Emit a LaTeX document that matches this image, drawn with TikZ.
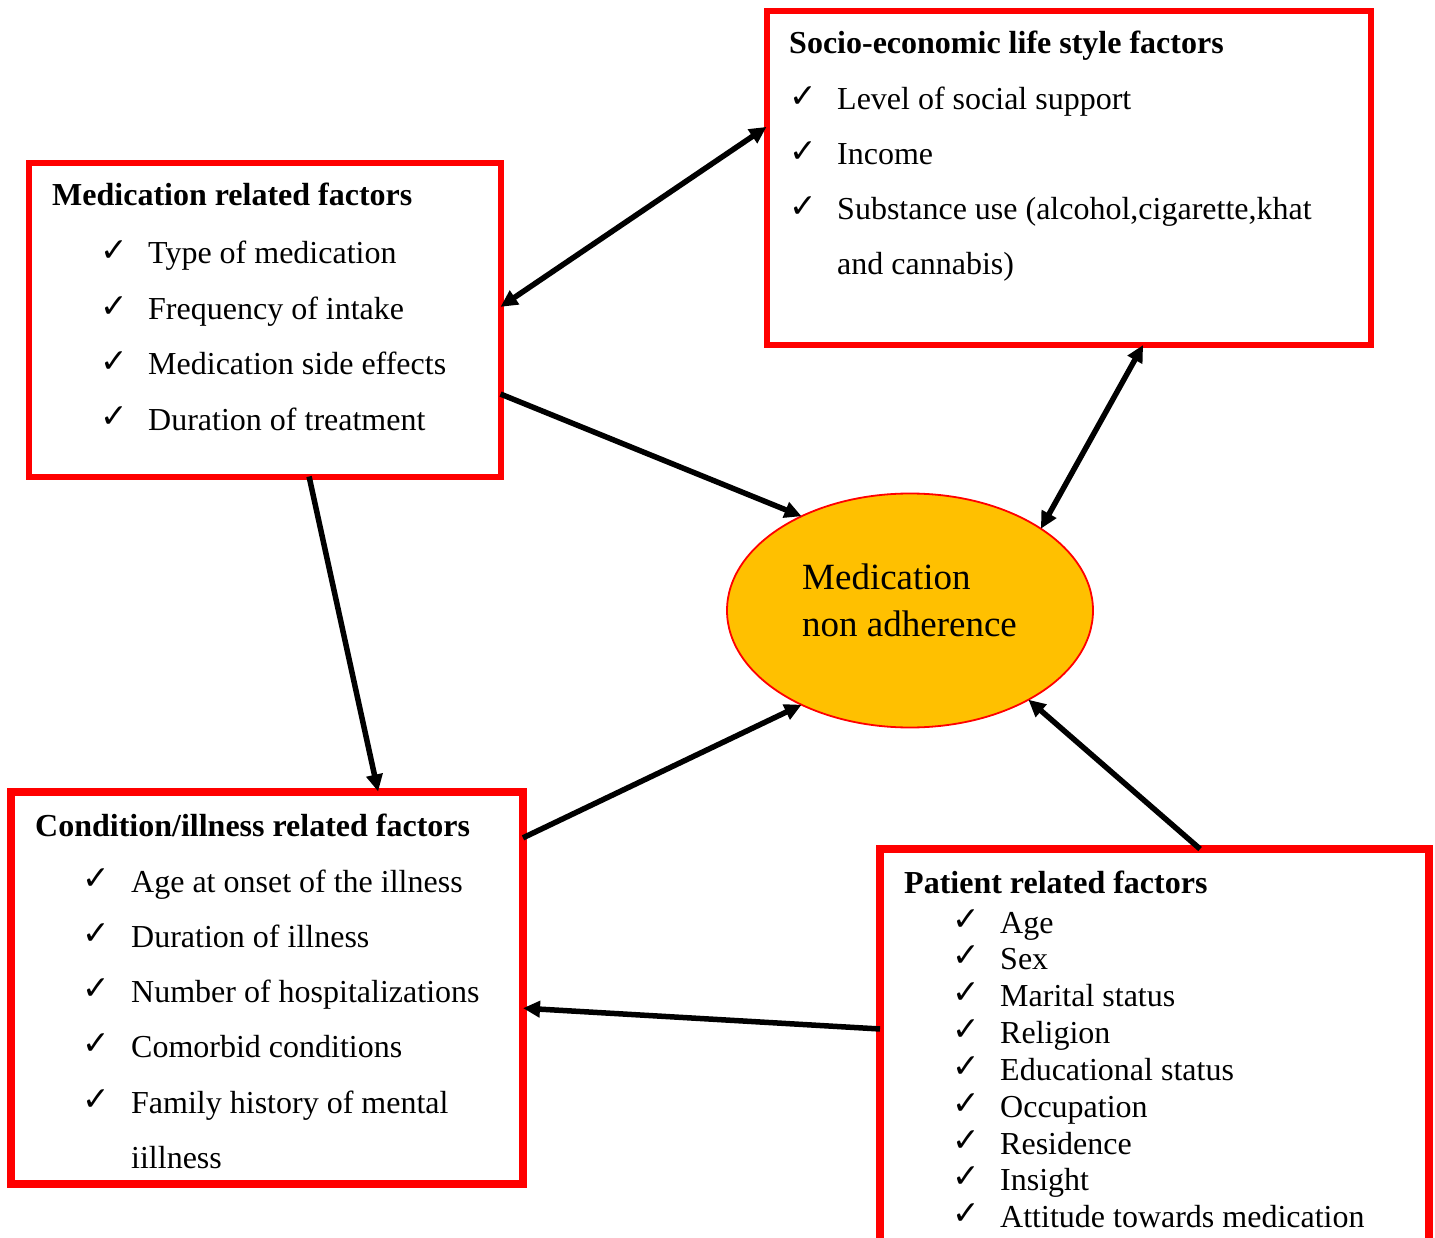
\documentclass[tikz,border=0pt]{standalone}
\usepackage{fontspec}
\setmainfont{Liberation Serif}
\newfontfamily\chkfont{DejaVu Sans}
\usetikzlibrary{arrows.meta,calc,shapes.geometric}
\definecolor{ellfill}{HTML}{FFC000}
\begin{document}
\begin{tikzpicture}[x=1pt,y=-1pt,
  box/.style={draw=red, rectangle, inner sep=0pt, outer sep=0pt, anchor=north west},
  hdr/.style={anchor=base west, inner sep=0pt, yshift=-2pt, font=\bfseries\fontsize{32}{38}\selectfont},
  itm/.style={anchor=base west, inner sep=0pt, yshift=-2pt, font=\fontsize{32}{38}\selectfont},
  ctext/.style={anchor=base west, inner sep=0pt, font=\fontsize{37}{44}\selectfont},
  chk/.style={anchor=base west, inner sep=0pt, yshift=-1.5pt, font=\chkfont\fontsize{33}{36}\selectfont},
  arr/.style={line width=5.5pt, -{Triangle[length=17pt,width=16pt]}},
  darr/.style={line width=5.5pt, {Triangle[length=17pt,width=16pt]}-{Triangle[length=17pt,width=16pt]}}
]
\useasboundingbox (0,0) rectangle (1435,1238);

% boxes
\node[box, line width=6pt, minimum width=604.5pt, minimum height=333.5pt] (soc) at (766.5,11.5) {};
\node[box, line width=6pt, minimum width=471.5pt, minimum height=313.5pt] (med) at (29,163) {};
\node[box, line width=8pt, minimum width=512pt, minimum height=392.5pt] (cond) at (11,791.5) {};
\node[box, line width=8pt, minimum width=549pt, minimum height=393pt] (pat) at (880,849) {};

% ellipse
\node[ellipse, draw=red, line width=1.8pt, fill=ellfill, minimum width=366pt, minimum height=234pt, inner sep=0pt, outer sep=0pt] (ell) at (910,610.5) {};
\node[ctext] (e1) at (802,589) {Medication};
\node[ctext] (e2) at (802,636) {non adherence};

% socio-economic
\node[hdr] (s0) at (789,52) {Socio-economic life style factors};
\node[chk] (sc1) at (789,106) {✓};
\node[itm] (s1) at (837,108) {Level of social support};
\node[chk] (sc2) at (789,161) {✓};
\node[itm] (s2) at (837,163) {Income};
\node[chk] (sc3) at (789,216) {✓};
\node[itm] (s3) at (837,218) {Substance use (alcohol,cigarette,khat};
\node[itm] (s4) at (837,273) {and cannabis)};

% medication
\node[hdr] (m0) at (52,204) {Medication related factors};
\node[chk] (mc1) at (100,260) {✓};
\node[itm] (m1) at (148,262) {Type of medication};
\node[chk] (mc2) at (100,316) {✓};
\node[itm] (m2) at (148,318) {Frequency of intake};
\node[chk] (mc3) at (100,371) {✓};
\node[itm] (m3) at (148,373) {Medication side effects};
\node[chk] (mc4) at (100,426) {✓};
\node[itm] (m4) at (148,428) {Duration of treatment};

% condition
\node[hdr] (c0) at (35,834) {Condition/illness related factors};
\node[chk] (cc1) at (82,888) {✓};
\node[itm] (c1) at (131,890) {Age at onset of the illness};
\node[chk] (cc2) at (82,943) {✓};
\node[itm] (c2) at (131,945) {Duration of illness};
\node[chk] (cc3) at (82,998) {✓};
\node[itm] (c3) at (131,1000) {Number of hospitalizations};
\node[chk] (cc4) at (82,1053) {✓};
\node[itm] (c4) at (131,1055) {Comorbid conditions};
\node[chk] (cc5) at (82,1109) {✓};
\node[itm] (c5) at (131,1111) {Family history of mental};
\node[itm] (c6) at (131,1166) {iillness};

% patient
\node[hdr] (p0) at (904,891) {Patient related factors};
\node[chk] (pc1) at (952,929) {✓};
\node[itm] (p1) at (1000,931) {Age};
\node[chk] (pc2) at (952,965) {✓};
\node[itm] (p2) at (1000,967) {Sex};
\node[chk] (pc3) at (952,1002) {✓};
\node[itm] (p3) at (1000,1004) {Marital status};
\node[chk] (pc4) at (952,1039) {✓};
\node[itm] (p4) at (1000,1041) {Religion};
\node[chk] (pc5) at (952,1076) {✓};
\node[itm] (p5) at (1000,1078) {Educational status};
\node[chk] (pc6) at (952,1113) {✓};
\node[itm] (p6) at (1000,1115) {Occupation};
\node[chk] (pc7) at (952,1150) {✓};
\node[itm] (p7) at (1000,1152) {Residence};
\node[chk] (pc8) at (952,1186) {✓};
\node[itm] (p8) at (1000,1188) {Insight};
\node[chk] (pc9) at (952,1223) {✓};
\node[itm] (p9) at (1000,1225) {Attitude towards medication};

% connectors
\draw[darr] ($(med.north east)!0.459!(med.south east)$) -- ($(soc.north west)!0.346!(soc.south west)$);
\draw[darr] (ell.32) -- ($(soc.south west)!0.623!(soc.south east)$);
\draw[arr] ($(med.north east)!0.737!(med.south east)$) -- (ell.139);
\draw[arr] ($(med.south west)!0.594!(med.south east)$) -- ($(cond.north west)!0.717!(cond.north east)$);
\draw[arr] ($(cond.north east)!0.118!(cond.south east)$) -- (ell.221);
\draw[arr] ($(pat.north west)!0.583!(pat.north east)$) -- (ell.323);
\draw[arr] ($(pat.north west)!0.458!(pat.south west)$) -- ($(cond.north east)!0.552!(cond.south east)$);
\end{tikzpicture}
\end{document}
